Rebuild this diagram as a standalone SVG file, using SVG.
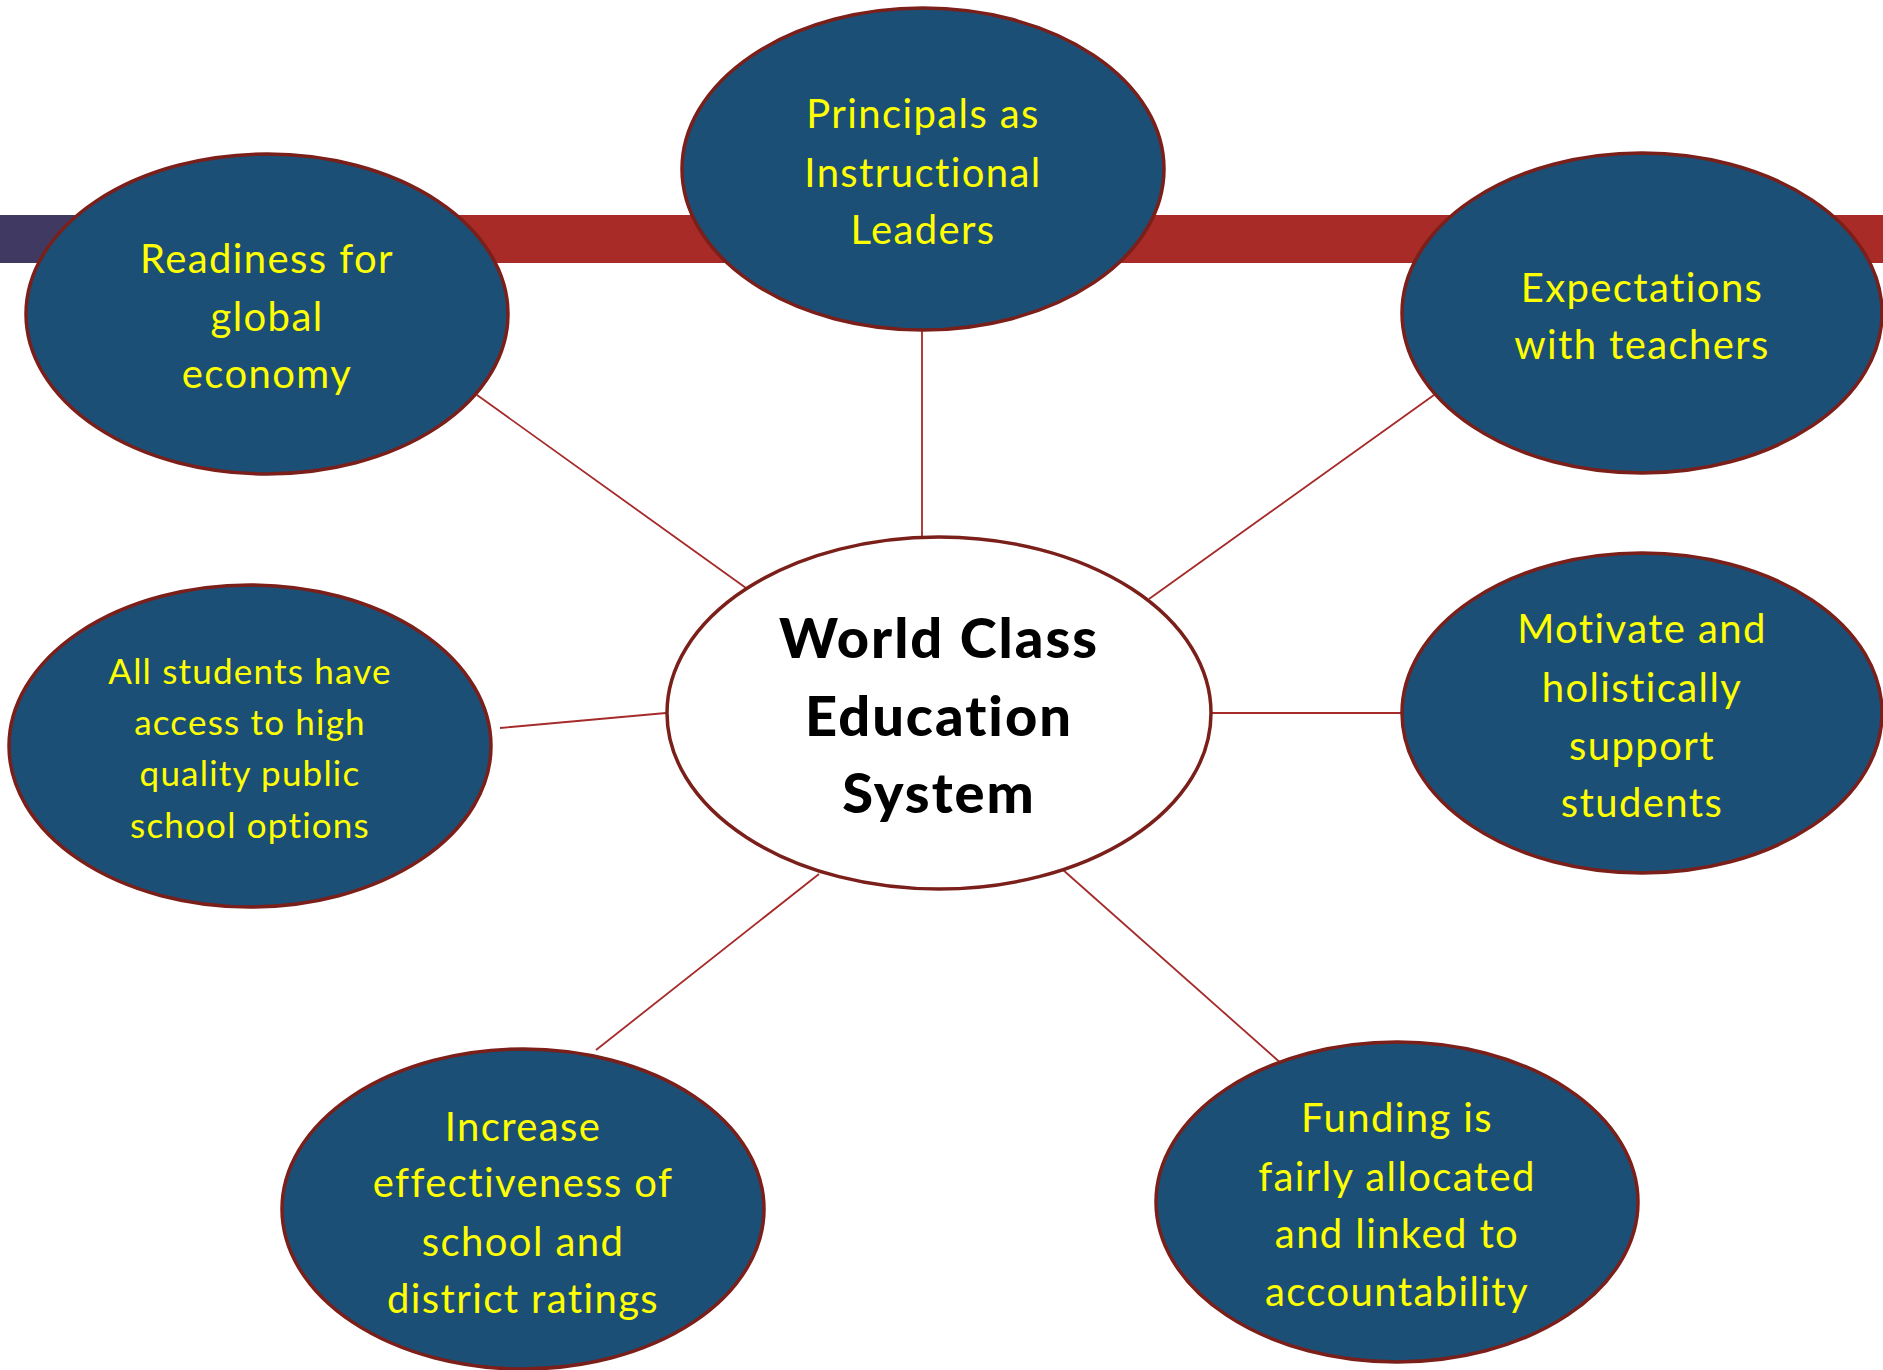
<svg xmlns="http://www.w3.org/2000/svg" width="1883" height="1370" viewBox="0 0 1883 1370">
<style>
.node{fill:#1B4F76;stroke:#7B1F1A;stroke-width:3.5}
.hub{fill:#FFFFFF;stroke:#7B1F1A;stroke-width:3.5}
.t{font-family:Lato,"Liberation Sans",sans-serif;font-size:40px;fill:#FFFF00;text-anchor:middle;letter-spacing:1.4px;font-variant-ligatures:none}
.ts{font-size:35px;letter-spacing:1.2px}
.hubt{font-family:Lato,"Liberation Sans",sans-serif;font-size:56px;font-weight:900;fill:#000000;text-anchor:middle;letter-spacing:2px;font-variant-ligatures:none}
.conn line{stroke:#A52A2A;stroke-width:1.8}
</style>
<rect width="1883" height="1370" fill="#FFFFFF"/>
<g id="bar">
<rect x="0" y="215" width="1883" height="48" fill="#A82B28"/>
<rect x="0" y="215" width="100" height="48" fill="#403A62"/>
</g>
<g id="connectors" class="conn">
<line x1="922" y1="331" x2="922" y2="537"/>
<line x1="477" y1="395" x2="746" y2="588"/>
<line x1="1434" y1="395" x2="1149" y2="599"/>
<line x1="500" y1="728" x2="666" y2="713"/>
<line x1="1212" y1="713" x2="1401" y2="713"/>
<line x1="819" y1="874" x2="596" y2="1050"/>
<line x1="1062" y1="869" x2="1283" y2="1065"/>
</g>
<g id="hub">
<ellipse class="hub" cx="939" cy="713" rx="272" ry="176"/>
<text class="hubt" x="939" y="658">World Class</text>
<text class="hubt" x="939" y="736">Education</text>
<text class="hubt" x="939" y="813">System</text>
</g>
<g id="principals">
<ellipse class="node" cx="923" cy="169" rx="241" ry="161"/>
<text class="t" x="923" y="128">Principals as</text>
<text class="t" x="923" y="187">Instructional</text>
<text class="t" x="923" y="244">Leaders</text>
</g>
<g id="readiness">
<ellipse class="node" cx="267" cy="314" rx="241" ry="160"/>
<text class="t" x="267" y="273">Readiness for</text>
<text class="t" x="267" y="331">global</text>
<text class="t" x="267" y="388">economy</text>
</g>
<g id="expectations">
<ellipse class="node" cx="1642" cy="313" rx="240" ry="160"/>
<text class="t" x="1642" y="302">Expectations</text>
<text class="t" x="1642" y="359">with teachers</text>
</g>
<g id="access">
<ellipse class="node" cx="250" cy="746" rx="241" ry="161"/>
<text class="t ts" x="250" y="684">All students have</text>
<text class="t ts" x="250" y="735">access to high</text>
<text class="t ts" x="250" y="786">quality public</text>
<text class="t ts" x="250" y="838">school options</text>
</g>
<g id="motivate">
<ellipse class="node" cx="1642" cy="713" rx="240" ry="160"/>
<text class="t" x="1642" y="643">Motivate and</text>
<text class="t" x="1642" y="702">holistically</text>
<text class="t" x="1642" y="760">support</text>
<text class="t" x="1642" y="817">students</text>
</g>
<g id="effectiveness">
<ellipse class="node" cx="523" cy="1209" rx="241" ry="160"/>
<text class="t" x="523" y="1141">Increase</text>
<text class="t" x="523" y="1197">effectiveness of</text>
<text class="t" x="523" y="1256">school and</text>
<text class="t" x="523" y="1313">district ratings</text>
</g>
<g id="funding">
<ellipse class="node" cx="1397" cy="1202" rx="241" ry="160"/>
<text class="t" x="1397" y="1132">Funding is</text>
<text class="t" x="1397" y="1191">fairly allocated</text>
<text class="t" x="1397" y="1248">and linked to</text>
<text class="t" x="1397" y="1306">accountability</text>
</g>
</svg>
